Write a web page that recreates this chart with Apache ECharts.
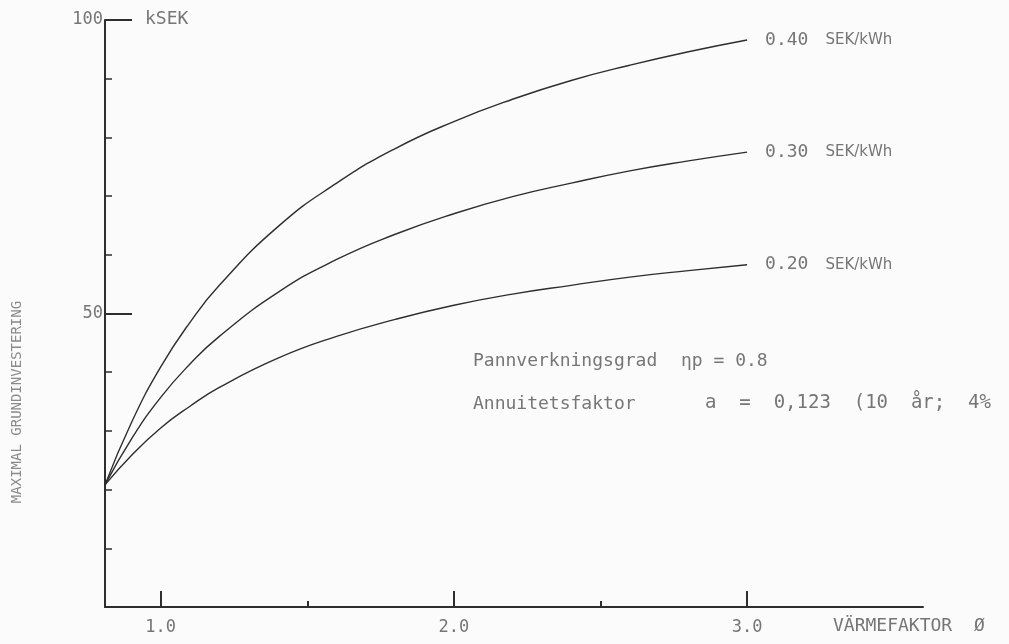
<!DOCTYPE html>
<html>
<head>
<meta charset="utf-8">
<script src="https://cdn.jsdelivr.net/npm/echarts@6/dist/echarts.min.js"></script>
<style>
html,body{margin:0;padding:0;background:#fbfbfb;}
#chart{width:1009px;height:644px;}
</style>
</head>
<body>
<div id="chart"></div>
<script>
// Data
var xValues = [0.81, 0.9, 1.0, 1.1, 1.2, 1.4, 1.6, 1.8, 2.0, 2.2, 2.4, 2.6, 2.8, 3.0];
var price040 = [20.8, 31.4, 40.9, 48.5, 54.8, 64.8, 72.2, 78.1, 82.7, 86.5, 89.7, 92.3, 94.6, 96.6];
var price030 = [20.8, 28.6, 35.7, 41.4, 46.1, 53.6, 59.2, 63.5, 67.0, 69.9, 72.2, 74.3, 76.0, 77.5];
var price020 = [20.8, 25.8, 30.5, 34.2, 37.4, 42.4, 46.1, 49.0, 51.4, 53.3, 54.8, 56.2, 57.3, 58.3];
var seriesNames = ['0.40', '0.30', '0.20'];
var xMajorTicks = [1, 2, 3];
var xMinorTicks = [1.5, 2.5];
var yMajorTicks = [50, 100];
var yTitle = 'MAXIMAL GRUNDINVESTERING';
var xTitle = 'VÄRMEFAKTOR  Ø';
var yUnit = 'kSEK';
var unitLabel = 'SEK/kWh';

function pairs(ys) { return xValues.map(function (x, i) { return [x, ys[i]]; }); }

var ink = '#2e2e2e';
var textGray = '#767676';
var mono = '"DejaVu Sans Mono", monospace';

function lineSeries(name, ys) {
  return {
    name: name,
    type: 'line',
    smooth: 0.5,
    symbol: 'none',
    data: pairs(ys),
    lineStyle: { color: ink, width: 1.4 },
    endLabel: {
      show: true,
      distance: 18,
      formatter: function (p) { return '{n|' + p.seriesName + '}{u|' + unitLabel + '}'; },
      rich: {
        n: { fontFamily: mono, fontSize: 18, color: textGray },
        u: { fontFamily: '"DejaVu Sans", sans-serif', fontSize: 15, color: textGray, padding: [0, 0, 0, 17] }
      }
    }
  };
}

var chart = echarts.init(document.getElementById('chart'), null, { renderer: 'canvas' });
chart.setOption({
  backgroundColor: '#fbfbfb',
  animation: false,
  grid: { left: 105, top: 20, right: 86, bottom: 37, containLabel: false },
  xAxis: [
    {
      type: 'value', min: 0.81, max: 3.6, position: 'bottom',
      axisLine: { show: true, lineStyle: { color: ink, width: 2 } },
      axisTick: { show: true, inside: true, length: 16, customValues: xMajorTicks, lineStyle: { color: ink, width: 2 } },
      axisLabel: { show: true, customValues: xMajorTicks, margin: 12, fontFamily: mono, fontSize: 17, color: textGray,
        formatter: function (v) { return v.toFixed(1); } },
      splitLine: { show: false }
    },
    {
      type: 'value', min: 0.81, max: 3.6, position: 'bottom',
      axisLine: { show: false },
      axisTick: { show: true, inside: true, length: 6, customValues: xMinorTicks, lineStyle: { color: ink, width: 2 } },
      axisLabel: { show: false },
      splitLine: { show: false }
    }
  ],
  yAxis: [
    {
      type: 'value', min: 0, max: 100, interval: 10, position: 'left',
      axisLine: { show: true, lineStyle: { color: ink, width: 2 } },
      axisTick: { show: true, inside: true, length: 7, lineStyle: { color: ink, width: 1.5 } },
      axisLabel: { show: false },
      splitLine: { show: false }
    },
    {
      type: 'value', min: 0, max: 100, position: 'left',
      axisLine: { show: false },
      axisTick: { show: true, inside: true, length: 27, customValues: yMajorTicks, lineStyle: { color: ink, width: 2 } },
      axisLabel: { show: true, customValues: yMajorTicks, margin: 2, fontFamily: mono, fontSize: 17, color: textGray },
      splitLine: { show: false }
    }
  ],
  series: [
    lineSeries(seriesNames[0], price040),
    lineSeries(seriesNames[1], price030),
    lineSeries(seriesNames[2], price020)
  ],
  graphic: [
    { type: 'text', left: 145, top: 10, style: { text: yUnit, fontFamily: mono, fontSize: 18, fill: textGray } },
    { type: 'text', x: 17, y: 402, rotation: Math.PI / 2,
      style: { text: yTitle, fontFamily: mono, fontSize: 14, fill: '#8a8a8a', align: 'center', verticalAlign: 'middle' } },
    { type: 'text', left: 833, top: 617, style: { text: xTitle, fontFamily: mono, fontSize: 18, fill: textGray } },
    { type: 'text', left: 473, top: 352, style: { text: 'Pannverkningsgrad', fontFamily: mono, fontSize: 18, fill: textGray } },
    { type: 'text', left: 681, top: 352, style: { text: 'ηp = 0.8', fontFamily: mono, fontSize: 18, fill: textGray } },
    { type: 'text', left: 473, top: 395, style: { text: 'Annuitetsfaktor', fontFamily: mono, fontSize: 18, fill: textGray } },
    { type: 'text', left: 705, top: 394, style: { text: 'a  =  0,123  (10  år;  4%', fontFamily: mono, fontSize: 19, fill: textGray } }
  ]
});
</script>
</body>
</html>
